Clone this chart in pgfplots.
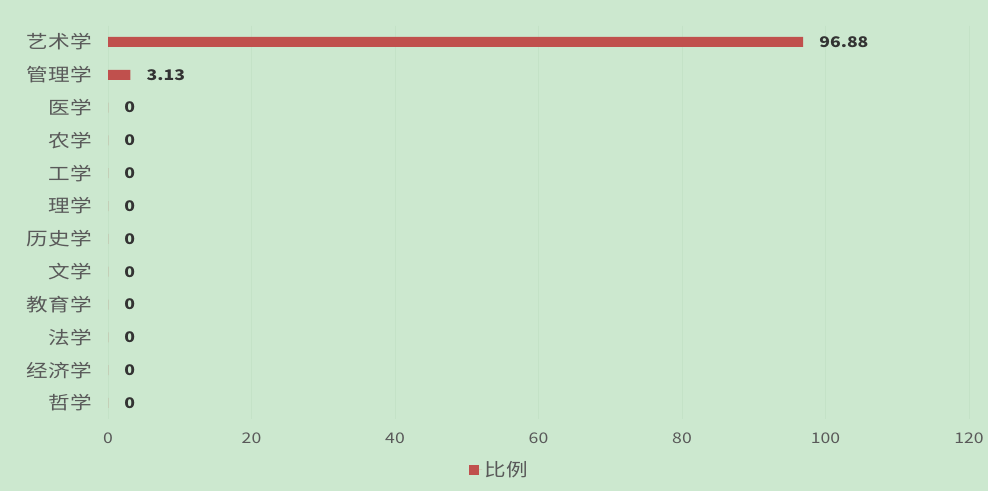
\documentclass[border=0pt]{standalone}
\usepackage{fontspec}
\setmainfont[FakeStretch=1.2]{Noto Sans CJK SC}
\usepackage{pgfplots}
\pgfplotsset{compat=1.18}
\pgfplotsset{/pgf/number format/assume math mode=true}
\definecolor{bg}{HTML}{CCE8CF}
\definecolor{barred}{HTML}{C0504D}
\definecolor{lbl}{HTML}{595959}
\definecolor{val}{HTML}{333333}
\definecolor{gridc}{HTML}{C4E2C7}

\begin{document}
\begin{tikzpicture}
\fill[bg] (0,0) rectangle (741pt,368.25pt);
\begin{axis}[
	at={(81pt,53.7pt)}, anchor=south west,
	scale only axis, width=645.75pt, height=295.4pt,
	xbar, bar width=7.5pt,
	xmin=0, xmax=120,
	ymin=-0.5, ymax=11.5, y dir=reverse,
	xtick={0,20,...,120},
	ytick={0,...,11},
	yticklabels={艺术学,管理学,医学,农学,工学,理学,历史学,文学,教育学,法学,经济学,哲学},
	axis line style={draw=none},
	major tick length=0pt,
	xmajorgrids, major grid style={gridc, line width=0.6pt},
	yticklabel style={font=\fontsize{13.5pt}{14pt}\selectfont, text=lbl, inner sep=0pt, xshift=-12pt},
	xticklabel style={font=\fontsize{11pt}{12pt}\selectfont, text=lbl, inner sep=0pt, anchor=center, yshift=-14pt},
	nodes near coords,
	nodes near coords style={font=\bfseries\fontsize{11pt}{12pt}\selectfont, text=val, anchor=west, inner sep=0pt, xshift=12pt},
	legend style={draw=none, fill=none, at={(0.455,-0.128)}, anchor=center,
		font=\fontsize{13.5pt}{14pt}\selectfont, text=lbl},
	legend image code/.code={\fill[barred] (0pt,-3.75pt) rectangle (7.5pt,3.75pt); \path (0pt,0pt) -- (10pt,0pt);},
]
\addplot[fill=barred, draw=none] coordinates {
(96.88,0) (3.13,1) (0,2) (0,3) (0,4) (0,5) (0,6) (0,7) (0,8) (0,9) (0,10) (0,11)
};
\addlegendentry{比例}
\end{axis}
\end{tikzpicture}
\end{document}
